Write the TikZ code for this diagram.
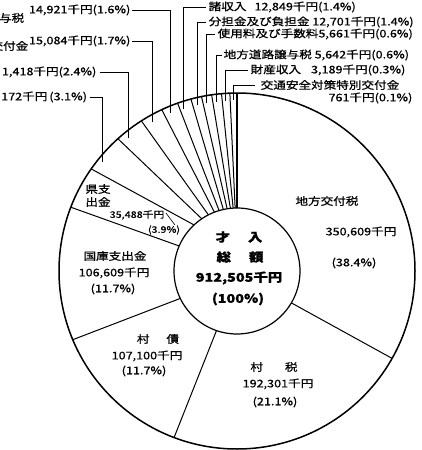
\documentclass[tikz,border=0pt]{standalone}
\usepackage{fontspec}
\setmainfont{Noto Sans CJK JP}[FakeStretch=1.2,FakeBold=0.8]
\usetikzlibrary{calc}
\begin{document}
\begin{tikzpicture}[x=1pt,y=-1pt,
  every node/.style={inner sep=0.5pt},
  txt/.style={font=\fontsize{10.5}{12}\selectfont},
  small/.style={font=\fontsize{9}{10}\selectfont},
  ctr/.style={font=\fontsize{12}{14}\selectfont\bfseries},
  ld/.style={line width=0.75pt},
  bd/.style={line width=1pt}]
\useasboundingbox (0,0) rectangle (421,450);
\fill[white] (0,0) rectangle (421,450);
\coordinate (C) at (237,271);
% slice boundaries: outer angle / inner angle (math angles)
\foreach \o/\i in {92.3/91.7, 95/93.5, 98.2/96, 101.5/99, 105/102.5, 109.5/106.5,
                   115/111, 122.5/117, 132/124, 145/133, 159/156.6, 202.7/205.8,
                   249.3/251, 330.6/329.6}
  \draw[bd] ($(C)+(-\i:63)$) -- ($(C)+(-\o:178)$);
\draw[line width=1.4pt] ($(C)+(-90:63)$) -- ($(C)+(-90:178)$);
\draw[line width=1.5pt] (C) circle[radius=178];
\draw[line width=1.2pt] (C) circle[radius=63];

% leader end points
\coordinate (e1) at (170,113);
\coordinate (e2) at (152,122);
\coordinate (e3) at (128,138);
\coordinate (e4) at (102,162);
\coordinate (f1) at (183,109);
\coordinate (f2) at (197,105);
\coordinate (f3) at (206,103);
\coordinate (f4) at (216,102);
\coordinate (f5) at (225,101);
\coordinate (f6) at (233,100);

% top-left labels
\node[txt,anchor=east] (t0) at (25,18) {与税};
\node[txt,anchor=east] (t1) at (131,10) {14,921千円(1.6\%)};
\node[txt,anchor=east] (t2n) at (29,46) {交付金};
\node[txt,anchor=east] (t2) at (131,41) {15,084千円(1.7\%)};
\node[txt,anchor=east] (t3) at (97,72) {1,418千円(2.4\%)};
\node[txt,anchor=west] (t4) at (0.5,97) {172千円\hspace{2pt}(3.1\%)};
\draw[ld] ([xshift=1pt]t1.east) -| (e1);
\draw[ld] ([xshift=1pt]t2.east) -| (e2);
\draw[ld] ([xshift=3pt]t3.east) -| (e3);
\draw[ld] ([xshift=2pt]t4.east) -| (e4);

% top-right labels
\node[txt,anchor=west] (r1) at (208,7) {諸収入\hspace{8pt}12,849千円(1.4\%)};
\node[txt,anchor=west] (r2) at (208,22) {分担金及び負担金 12,701千円(1.4\%)};
\node[txt,anchor=west] (r3) at (217,34) {使用料及び手数料5,661千円(0.6\%)};
\node[txt,anchor=west] (r4) at (223,55) {地方道路譲与税 5,642千円(0.6\%)};
\node[txt,anchor=west] (r5) at (250,70) {財産収入\hspace{10pt}3,189千円(0.3\%)};
\node[txt,anchor=west] (r6) at (260,85) {交通安全対策特別交付金};
\node[txt,anchor=east] (r6b) at (413,98) {761千円(0.1\%)};
\draw[ld] ([xshift=-2pt]r1.west) -| (f1);
\draw[ld] ([xshift=-2pt]r2.west) -| (f2);
\draw[ld] ([xshift=-2pt]r3.west) -| (f3);
\draw[ld] ([xshift=-1pt]r4.west) -| (f4);
\draw[ld] ([xshift=-2pt]r5.west) -| (f5);
\draw[ld] ([xshift=-5pt]r6.west) -| (f6);

% 地方交付税
\node[txt] (k1) at (327,201) {地方交付税};
\node[txt] (k1b) at (361,232) {350,609千円};
\node[txt] (k1c) at (354,263) {(38.4\%)};
% centre
\node[ctr] (c1) at (239,237) {才\hspace{18pt}入};
\node[ctr] (c2) at (240,257) {総\hspace{18pt}額};
\node[ctr] (c3) at (239,278) {912,505千円};
\node[ctr] (c4) at (238,299) {(100\%)};
% 村税
\node[txt] (k2) at (274,367) {村\hspace{22pt}税};
\node[txt] (k2b) at (278,384) {192,301千円};
\node[txt] (k2c) at (275,402) {(21.1\%)};
% 村債
\node[txt] (k3) at (158,339) {村\hspace{17pt}債};
\node[txt] (k3b) at (147,356) {107,100千円};
\node[txt] (k3c) at (144,371) {(11.7\%)};
% 国庫支出金
\node[txt] (k4) at (115,256) {国庫支出金};
\node[txt] (k4b) at (114,273) {106,609千円};
\node[txt] (k4c) at (113,289) {(11.7\%)};
% 県支出金
\node[txt] (k5) at (98,189) {県支};
\node[txt] (k5a) at (98,202) {出金};
\node[small] (k5b) at (137,215) {35,488千円};
\node[small] (k5c) at (164,230) {(3.9\%)};
\coordinate (k5e) at (175,225);
\draw[line width=0.6pt] ([xshift=1pt,yshift=2pt]k5b.east) -- (k5e);
\end{tikzpicture}
\end{document}
